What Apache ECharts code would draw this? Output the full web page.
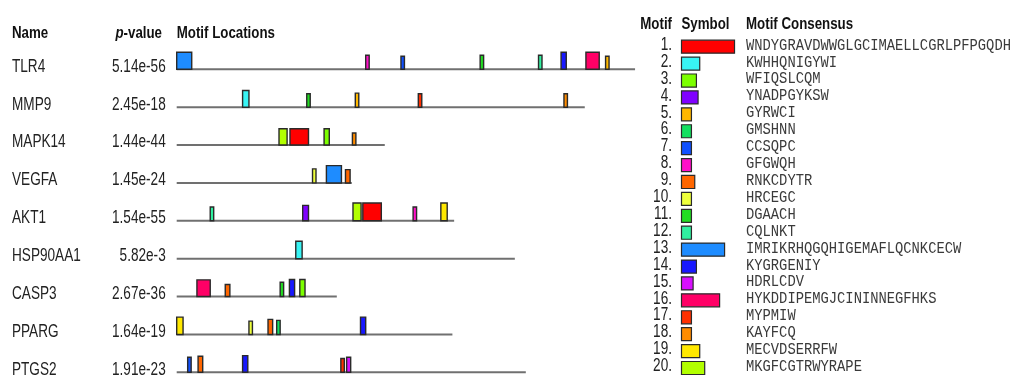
<!DOCTYPE html>
<html>
<head>
<meta charset="utf-8">
<script src="https://cdn.jsdelivr.net/npm/echarts@6/dist/echarts.min.js"></script>
<style>
  html, body { margin: 0; padding: 0; background: #ffffff; }
  #chart { width: 1017px; height: 375px; }
</style>
</head>
<body>
<div id="chart"></div>
<script>
// Sequences, their combined p-values and lengths (residues)
const geneNames = ['TLR4', 'MMP9', 'MAPK14', 'VEGFA', 'AKT1', 'HSP90AA1', 'CASP3', 'PPARG', 'PTGS2'];
const combinedPValues = ['5.14e-56', '2.45e-18', '1.44e-44', '1.45e-24', '1.54e-55', '5.82e-3', '2.67e-36', '1.64e-19', '1.91e-23'];
const sequenceLengths = [793, 706, 360, 303, 480, 585, 277, 477, 604];

// Motif consensus sequences (motif width = consensus length) and symbol colours
const motifConsensus = [
  'WNDYGRAVDWWGLGCIMAELLCGRLPFPGQDH', 'KWHHQNIGYWI', 'WFIQSLCQM', 'YNADPGYKSW', 'GYRWCI',
  'GMSHNN', 'CCSQPC', 'GFGWQH', 'RNKCDYTR', 'HRCEGC',
  'DGAACH', 'CQLNKT', 'IMRIKRHQGQHIGEMAFLQCNKCECW', 'KYGRGENIY', 'HDRLCDV',
  'HYKDDIPEMGJCININNEGFHKS', 'MYPMIW', 'KAYFCQ', 'MECVDSERRFW', 'MKGFCGTRWYRAPE'
];
const motifColors = [
  '#ff0000', '#38f4f4', '#7cff00', '#8000ff', '#ffb800',
  '#14e060', '#1050ff', '#ff10c8', '#ff6600', '#eeff3c',
  '#22dd22', '#30f0a0', '#1e8cff', '#1818ff', '#d810ff',
  '#ff0066', '#ff3000', '#ff8c00', '#ffe800', '#b2ff00'
];

// Motif sites per sequence: [motif number, start position, site score (-log10 p)]
const sitesTLR4 = [[13, 0, 10.6], [8, 327, 8.75], [7, 388, 8.1], [11, 525, 8.75], [12, 626, 8.75], [14, 665, 10.6], [16, 708, 10.6], [5, 742, 8.1]];
const sitesMMP9 = [[2, 114, 10.4], [11, 225, 8.4], [5, 309, 8.75], [17, 418, 8.4], [18, 670, 8.4]];
const sitesMAPK14 = [[20, 177, 10.2], [1, 196, 10.2], [3, 255, 10.2], [18, 304, 7.5]];
const sitesVEGFA = [[10, 235, 8.75], [13, 259, 10.8], [9, 292, 8.3]];
const sitesAKT1 = [[12, 58, 8.6], [4, 218, 9.6], [20, 305, 11.1], [1, 322, 11.1], [8, 409, 8.6], [19, 457, 11.1]];
const sitesHSP90AA1 = [[2, 206, 10.9]];
const sitesCASP3 = [[16, 35, 10.4], [9, 84, 7.5], [11, 179, 8.9], [14, 195, 10.6], [3, 213, 10.6]];
const sitesPPARG = [[19, 0, 10.8], [10, 125, 8.3], [9, 158, 9.4], [6, 173, 8.75], [14, 318, 10.8]];
const sitesPTGS2 = [[7, 19, 9.4], [9, 37, 10.0], [14, 114, 10.4], [17, 284, 8.6], [15, 294, 9.4]];
const sitesByGene = [sitesTLR4, sitesMMP9, sitesMAPK14, sitesVEGFA, sitesAKT1, sitesHSP90AA1, sitesCASP3, sitesPPARG, sitesPTGS2];

// Box height per unit of site score, in row units of the location panel
const ROW_PER_SCORE = 0.0423;

const SANS = "'Liberation Sans', Arial, sans-serif";
const MONO = "'Liberation Mono', 'Courier New', monospace";
const TALL = 1.3;   // the typeface is drawn tall and narrow

const siteData = [];
sitesByGene.forEach((list, row) => {
  list.forEach(s => siteData.push([row, s[1], s[0] - 1, s[2]]));
});
const lineData = sequenceLengths.map((len, row) => [row, len]);
const legendData = motifConsensus.map((c, k) => [k, c.length]);

const chart = echarts.init(document.getElementById('chart'), null, { renderer: 'canvas' });

function tallText(x, y, text, font, fill, align, scaleY) {
  return {
    type: 'text', x: x, y: y, scaleY: scaleY,
    style: { text: text, font: font, fill: fill, align: align, verticalAlign: 'middle' }
  };
}

const headFont = 'bold 13.3px ' + SANS;

chart.setOption({
  animation: false,
  backgroundColor: '#ffffff',
  grid: [
    { left: 176.7, right: 377.9, top: 69.3, bottom: 2.7 },
    { left: 681.5, right: 277.5, top: 46.7, bottom: 7 }
  ],
  xAxis: [
    { gridIndex: 0, type: 'value', min: 0, max: 800, show: false },
    { gridIndex: 1, type: 'value', min: 0, max: 35, show: false }
  ],
  yAxis: [
    { gridIndex: 0, type: 'value', inverse: true, min: 0, max: 8, interval: 1, show: false },
    { gridIndex: 1, type: 'value', inverse: true, min: 0, max: 19, interval: 1, show: false }
  ],
  graphic: [
    tallText(12, 33.3, 'Name', headFont, '#111', 'left', 1.25),
    {
      type: 'text', x: 162, y: 33.3, scaleY: 1.25,
      style: {
        text: '{i|p}{b|-value}', align: 'right', verticalAlign: 'middle',
        rich: {
          i: { font: 'italic bold 13.3px ' + SANS, fill: '#111' },
          b: { font: headFont, fill: '#111' }
        }
      }
    },
    tallText(176.7, 33.3, 'Motif Locations', headFont, '#111', 'left', 1.25),
    tallText(672, 24.2, 'Motif', headFont, '#111', 'right', 1.25),
    tallText(681.5, 24.2, 'Symbol', headFont, '#111', 'left', 1.25),
    tallText(746, 24.2, 'Motif Consensus', headFont, '#111', 'left', 1.25)
  ],
  series: [
    {
      // sequence backbones
      type: 'custom', xAxisIndex: 0, yAxisIndex: 0, z: 1,
      data: lineData,
      renderItem: (params, api) => {
        const a = api.coord([0, api.value(0)]);
        const b = api.coord([api.value(1), api.value(0)]);
        return {
          type: 'line',
          shape: { x1: a[0], y1: a[1], x2: b[0], y2: b[1] },
          style: { stroke: '#707070', lineWidth: 2 }
        };
      }
    },
    {
      // sequence names and combined p-values
      type: 'custom', xAxisIndex: 0, yAxisIndex: 0, z: 3,
      data: lineData,
      renderItem: (params, api) => {
        const row = api.value(0);
        const a = api.coord([0, row]);
        const font = '13.6px ' + SANS;
        return {
          type: 'group',
          children: [
            tallText(12, a[1] - 2.5, geneNames[row], font, '#222', 'left', TALL),
            tallText(a[0] - 11, a[1] - 2.5, combinedPValues[row], font, '#222', 'right', TALL)
          ]
        };
      }
    },
    {
      // motif sites
      type: 'custom', xAxisIndex: 0, yAxisIndex: 0, z: 2,
      data: siteData,
      renderItem: (params, api) => {
        const row = api.value(0), start = api.value(1), m = api.value(2), score = api.value(3);
        const len = motifConsensus[m].length;
        const p = api.coord([start, row]);
        const w = api.size([len, 0])[0];
        const h = api.size([0, score * ROW_PER_SCORE])[1];
        return {
          type: 'rect',
          shape: { x: p[0], y: p[1] - h, width: w, height: h },
          style: { fill: motifColors[m], stroke: '#2a2a2a', lineWidth: 1.4 }
        };
      }
    },
    {
      // motif key: number, symbol and consensus
      type: 'custom', xAxisIndex: 1, yAxisIndex: 1, z: 2,
      data: legendData,
      renderItem: (params, api) => {
        const k = api.value(0);
        const p = api.coord([0, k]);
        const w = api.size([api.value(1), 0])[0];
        const h = api.size([0, 0.77])[1];
        return {
          type: 'group',
          children: [
            {
              type: 'rect',
              shape: { x: p[0], y: p[1] - h / 2, width: w, height: h },
              style: { fill: motifColors[k], stroke: '#2a2a2a', lineWidth: 1.2 }
            },
            tallText(p[0] - 9.5, p[1] - 1.7, (k + 1) + '.', '13.6px ' + SANS, '#222', 'right', TALL),
            tallText(p[0] + 64.5, p[1] - 1.4, motifConsensus[k], '13.8px ' + MONO, '#3a3a3a', 'left', 1.2)
          ]
        };
      }
    }
  ]
});
</script>
</body>
</html>
